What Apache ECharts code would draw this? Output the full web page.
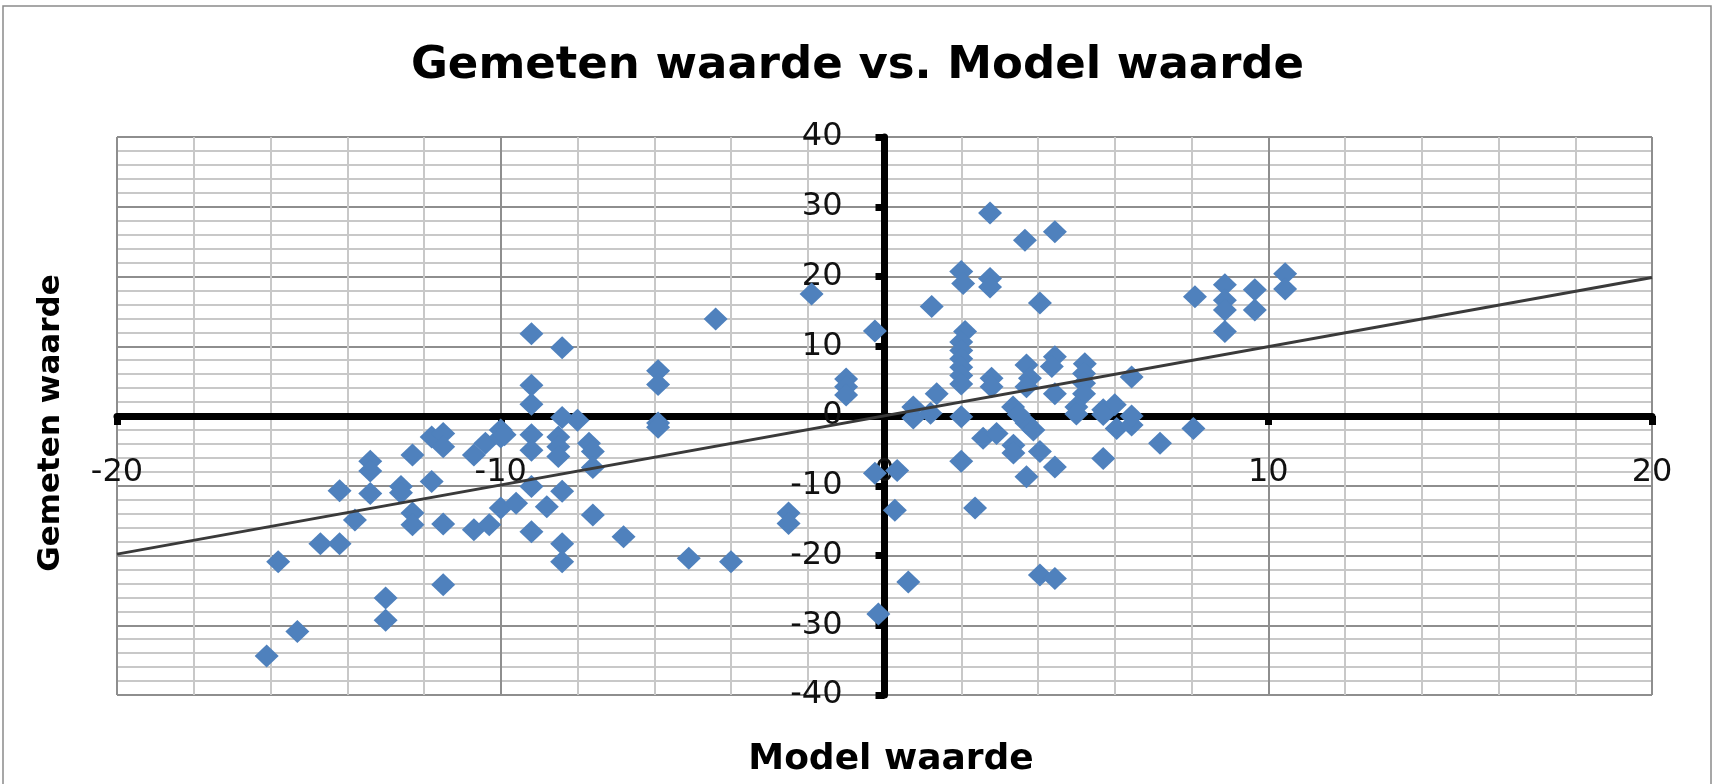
<!DOCTYPE html>
<html>
<head>
<meta charset="utf-8">
<script src="https://cdn.jsdelivr.net/npm/echarts@6/dist/echarts.min.js"></script>
<style>
  html, body { margin: 0; padding: 0; background: #fff; }
  #chart { width: 1715px; height: 784px; }
</style>
</head>
<body>
<div id="chart"></div>
<script>
// ---- data ----
const chartTitle = 'Gemeten waarde vs. Model waarde';
const xAxisName = 'Model waarde';
const yAxisName = 'Gemeten waarde';

// model value (x) of each measurement
const modelValues = [
  -16.1, -15.3, -15.8, -14.7, -14.2, -13.8, -14.2, -13.4, -13.4, -13.4,
  -13.0, -13.0, -12.6, -12.6, -12.3, -12.3, -12.3, -11.8, -11.5, -11.5,
  -11.8, -11.5, -11.5, -10.7, -10.4, -10.7, -10.3, -10.0, -10.0, -10.0,
  -9.9, -9.2, -9.2, -9.2, -9.2, -8.4, -8.4, -8.0, -8.5, -8.5,
  -8.5, -7.7, -7.6, -7.6, -9.2, -9.2, -9.6, -8.8, -8.4, -7.6,
  -9.2, -8.4, -8.4, -6.8, -5.1, -4.0, -2.5, -2.5, -0.25, 0.33,
  0.27, 0.62, -0.16, -5.9, -5.9, -5.9, -5.9, -4.4, -1.9, -0.25,
  -1.0, -1.0, -1.0,
  2.75, 3.66, 4.44, 2.0, 2.05, 2.75, 2.75, 1.23, 4.05, 2.1,
  2.0, 2.0, 2.0, 2.0, 2.0, 2.0, 1.36, 0.75, 1.2, 2.79,
  2.79, 3.7, 3.79, 3.7, 4.44, 4.36, 4.44, 5.22, 5.2, 5.2,
  5.2, 5.0, 5.7, 6.0, 6.44, 3.35, 8.09, 8.87, 8.87, 8.87,
  8.87, 9.65, 9.65, 10.44, 10.44,
  2.0, 2.36, 0.75, 2.0, 2.57, 2.92, 3.36, 3.36, 3.7, 3.88,
  4.05, 4.44, 3.7, 4.05, 4.44, 5.7, 6.05, 6.44, 6.44, 7.18,
  8.05, 5.0, 5.7, 3.5
];
// measured value (y) of each measurement
const measuredValues = [
  -34.4, -30.9, -20.9, -18.3, -18.3, -14.9, -10.7, -6.5, -7.9, -11.1,
  -26.1, -29.3, -10.1, -11.0, -5.6, -13.9, -15.6, -3.0, -2.5, -4.4,
  -9.4, -15.5, -24.2, -5.6, -3.9, -16.3, -15.6, -3.0, -2.0, -13.2,
  -2.7, -2.7, 1.7, 4.4, 11.8, 9.8, -0.2, -0.6, -3.0, -4.4,
  -5.8, -3.9, -5.1, -7.4, -4.9, -10.1, -12.5, -13.0, -10.8, -14.2,
  -16.6, -18.3, -20.9, -17.3, -20.4, -20.9, -13.9, -15.4, -8.2, -7.8,
  -13.5, -23.8, -28.4, 6.5, 4.5, -1.0, -1.6, 13.9, 17.5, 12.2,
  5.3, 4.2, 3.0,
  29.1, 25.2, 26.4, 20.7, 19.0, 19.7, 18.5, 15.7, 16.2, 12.1,
  10.6, 9.4, 8.2, 7.0, 5.8, 4.6, 3.2, 1.3, 0.4, 5.4,
  4.2, 7.3, 5.4, 4.2, 8.5, 7.1, 3.2, 7.5, 6.1, 4.7,
  3.2, 1.3, 0.9, 1.6, 5.6, 1.3, 17.1, 18.8, 16.6, 15.2,
  12.1, 18.1, 15.2, 20.4, 18.2,
  -6.5, -13.2, -0.3, -0.1, -3.2, -2.5, -4.2, -5.3, -1.0, -2.0,
  -5.1, -7.3, -8.7, -22.8, -23.3, -6.1, -1.8, -1.3, 0.0, -3.9,
  -1.8, 0.3, 0.2, 0.2
];
// linear trend line (end points)
const trendX = [-20, 20];
const trendY = [-19.8, 19.85];

const xTicks = { min: -20, max: 20, interval: 10 };
const yTicks = { min: -40, max: 40, interval: 10 };

// ---- chart ----
const points = modelValues.map((x, i) => [x, measuredValues[i]]);
const trend = trendX.map((x, i) => [x, trendY[i]]);

const gridBox = { left: 117, right: 63, top: 137, bottom: 89 };
const W = 1715, H = 784;
const plotW = W - gridBox.left - gridBox.right;
const plotH = H - gridBox.top - gridBox.bottom;
// shift each axis from the plot edge onto the other axis' zero line
const yAxisShift = -plotW * (0 - xTicks.min) / (xTicks.max - xTicks.min);
const xAxisShift = -plotH * (0 - yTicks.min) / (yTicks.max - yTicks.min);

const chart = echarts.init(document.getElementById('chart'), null, { renderer: 'canvas' });

const tickFont = { fontFamily: 'DejaVu Sans', fontSize: 32, color: '#111' };

chart.setOption({
  animation: false,
  backgroundColor: '#fff',
  title: {
    text: chartTitle,
    left: 'center',
    top: 39,
    textStyle: { fontFamily: 'DejaVu Sans', fontSize: 45, fontWeight: 'bold', color: '#000' }
  },
  graphic: [{
    type: 'rect',
    shape: { x: 3, y: 6, width: 1708, height: 820 },
    style: { fill: 'none', stroke: '#8a8a8a', lineWidth: 1.5 },
    silent: true
  }],
  grid: Object.assign({ containLabel: false, outerBoundsMode: 'none' }, gridBox),
  xAxis: {
    type: 'value',
    position: 'bottom',
    offset: xAxisShift,
    min: xTicks.min, max: xTicks.max, interval: xTicks.interval,
    name: xAxisName,
    nameLocation: 'middle',
    nameGap: 326,
    nameTextStyle: { fontFamily: 'DejaVu Sans', fontSize: 36, fontWeight: 'bold', color: '#000', padding: [0, 0, 0, 13] },
    axisLine: { onZero: false, lineStyle: { color: '#000', width: 7 } },
    axisTick: { show: true, length: 9, lineStyle: { color: '#000', width: 7 } },
    axisLabel: Object.assign({ margin: 41 }, tickFont),
    splitLine: { show: true, lineStyle: { color: '#8e8e8e', width: 2 } },
    minorTick: { show: false, splitNumber: 5 },
    minorSplitLine: { show: true, lineStyle: { color: '#c8c8c8', width: 2 } }
  },
  yAxis: {
    type: 'value',
    position: 'left',
    offset: yAxisShift,
    min: yTicks.min, max: yTicks.max, interval: yTicks.interval,
    name: yAxisName,
    nameLocation: 'middle',
    nameGap: 818,
    nameTextStyle: { fontFamily: 'DejaVu Sans', fontSize: 31, fontWeight: 'bold', color: '#000', padding: [0, 14, 0, 0] },
    axisLine: { onZero: false, lineStyle: { color: '#000', width: 7 } },
    axisTick: { show: true, length: 9, lineStyle: { color: '#000', width: 7 } },
    axisLabel: Object.assign({ margin: 42 }, tickFont),
    splitLine: { show: true, lineStyle: { color: '#8e8e8e', width: 2 } },
    minorTick: { show: false, splitNumber: 5 },
    minorSplitLine: { show: true, lineStyle: { color: '#c8c8c8', width: 2 } }
  },
  series: [
    {
      type: 'scatter',
      data: points,
      symbol: 'diamond',
      symbolSize: [24, 23],
      itemStyle: { color: '#4F81BD', opacity: 1 },
      z: 3
    },
    {
      type: 'line',
      data: trend,
      showSymbol: false,
      symbol: 'none',
      lineStyle: { color: '#3a3a3a', width: 3 },
      z: 4
    }
  ]
});
</script>
</body>
</html>
